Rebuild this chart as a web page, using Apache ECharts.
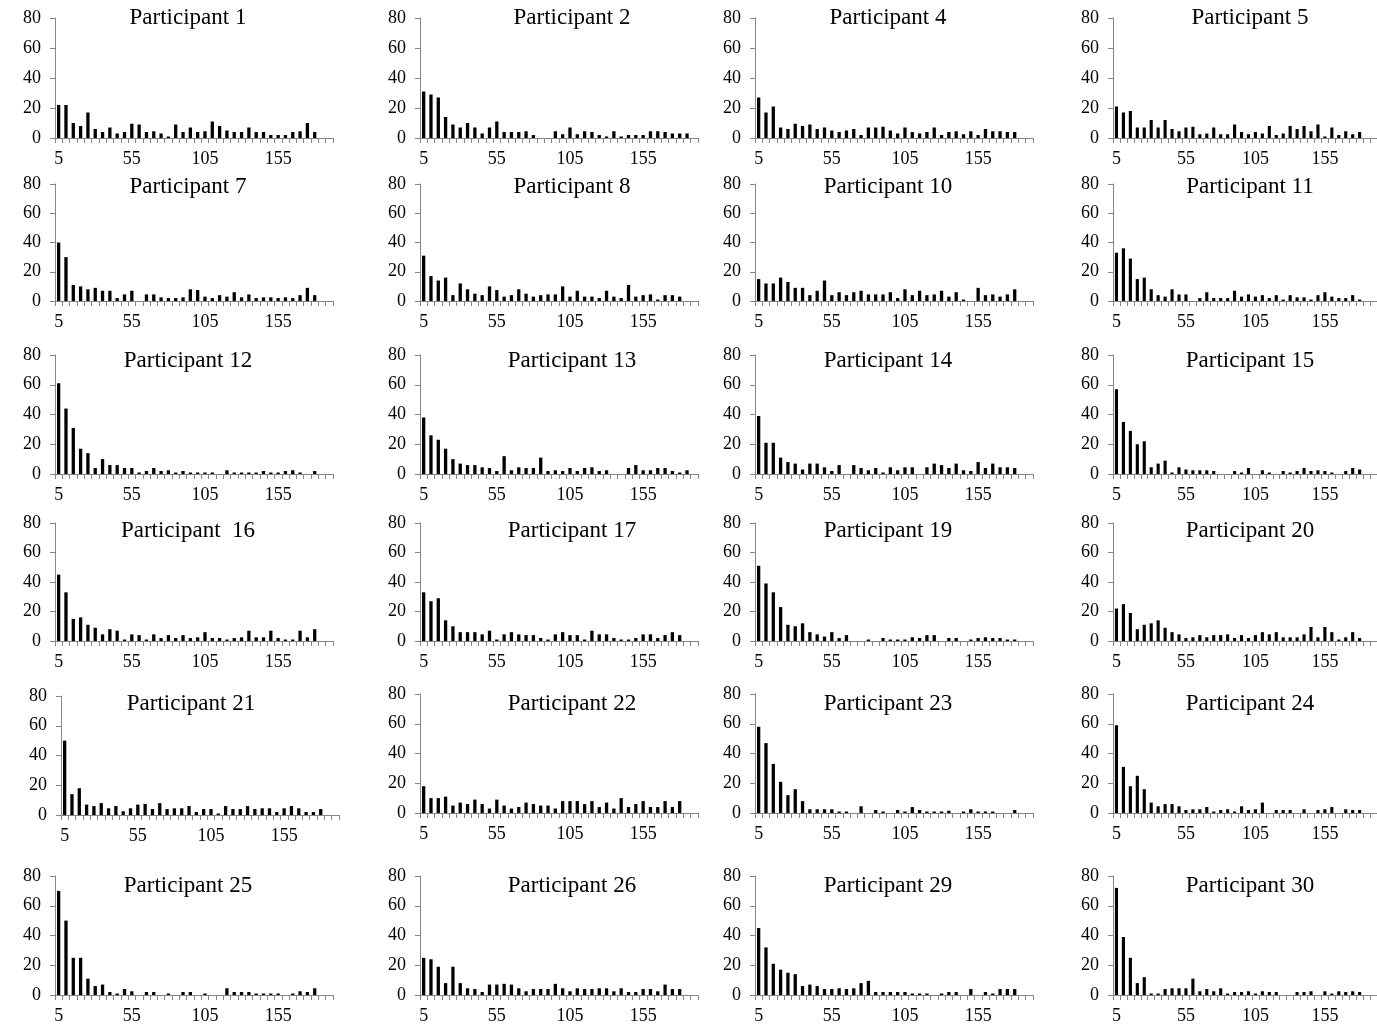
<!DOCTYPE html>
<html>
<head>
<meta charset="utf-8">
<script src="https://cdn.jsdelivr.net/npm/echarts@6/dist/echarts.min.js"></script>
<style>
  html, body { margin: 0; padding: 0; background: #ffffff; }
  #chart { width: 1377px; height: 1030px; }
</style>
</head>
<body>
<div id="chart"></div>
<script>
// Bin labels (upper edge of each 5-unit bin)
const bins = ['5','10','15','20','25','30','35','40','45','50','55','60','65','70','75','80','85','90','95','100',
              '105','110','115','120','125','130','135','140','145','150','155','160','165','170','175','180','185','190'];

// Y axis ticks
const yTicks = [0, 20, 40, 60, 80];

// Counts per bin for each participant
const p1  = [22,22,10,8,17,6,4,7,3,4,9.5,9,4,4.5,3,1,9,4,7,4,4.5,11,8,5,4,4,7,4,4,2,2,2,4,4.5,10,4,0,0];
const p2  = [31,29,27,14,9,7,10,7,3,7,11,4,4,4,4.5,2,0,0,4.5,2.5,7,2.5,4.5,4,2,1,4.5,1,2,2,2,4.5,4.5,4,3,3,3,0];
const p4  = [27,17,21,7,6,9.5,8,9,6,7,5,4,5,6,2,7,7,7.5,5,3,7,4,3,4,7,2,4,4.5,2.5,4.5,2,6,4.5,4.5,4,4,0,0];
const p5  = [21,17,18,7,7,12,7,12,6,4.5,7,7.5,2.5,3,7,2.5,2.5,9,4,2.5,4,3,8,2,3,8,6,8,4.5,9,1,7,2,4.5,2.5,4,0,0];
const p7  = [40,30,11,10,8,9,7,7,2,4.5,7,0,4.5,4.5,2.5,2,2,2.5,8,7.5,3,2,4,3,6,2.5,4.5,2,2.5,2.5,2,2.5,2,4,9,4,0,0];
const p8  = [31,17,14,16,4,12,8,5,4,10,7.5,3,4,8,5,3,4,4.5,4.5,10,3,7,3,3,2,7,3,2,11,3,4,4.5,1,4,4,3,0,0];
const p10 = [15,12,12,16,13,9,9,4,7,14,4,6,4,6,7,4.5,4.5,4.5,6,2,8,4,7,4,4.5,7,3,6,1,0,9,4,4.5,3,4.5,8,0,0];
const p11 = [33,36,29,15,16,8,4,3,8,4.5,4.5,0,2,6,2,2,2,7,3,4.5,3,4,2,4,1,4,2.5,2.5,1,4,6,3,2,2,4,1,0,0];
const p12 = [61,44,31,17,14,4,10,6,6,4,4,1,2,4,2,2.5,1,2,1,1,1,1,0,2.5,1,1,1,1,2,1,1,2,2.5,1,0,2,0,0];
const p13 = [38,26,23,17,10,7,6,6,4.5,4,2,12,2.5,4.5,4,4,11,2,2.5,2,4,2,4,4.5,2,2.5,0,0,4,6,2.5,2.5,4,4,2,1,2.5,0];
const p14 = [39,21,21,11,8,7,3,7,7,4.5,2,6,0,6,4,2.5,4,1,4.5,2.5,4.5,4.5,0,4.5,7,6,4,7,2.5,2,8,4,7,4.5,4.5,4,0,0];
const p15 = [57,35,29,20,22,4.5,7,9,1,4.5,3,2.5,2.5,2.5,2,0,0,2,1,4,0,2.5,1,0,2,1,2,4,2,2.5,2,1,0,2,4,3,0,0];
const p16 = [45,33,15,16,11,9,4.5,8,7,1,4.5,4,1,4.5,2,4,2,4,2,2.5,6,2,2,1,2,2.5,7,2.5,2.5,7,2,1,1,7,2.5,8,0,0];
const p17 = [33,27,29,14,10,6,6,6,4.5,7,1,4.5,6,4.5,4,4,2,1,4.5,6,4,4,1,7,4.5,4.5,2,1,1,2,4.5,4.5,2,4,6,4,0,0];
const p19 = [51,39,33,23,11,10,12,6,4.5,3,6,2,4,0,0,1,0,2,1,1,1,2.5,2,4,4,0,2,2,0,1,2,2.5,2,2,1,1,0,0];
const p20 = [22,25,19,8,11,12,14,9,6,4.5,2,2.5,4,2.5,4,4,4.5,2,4,2,4,6,4.5,6,2.5,2.5,2.5,4.5,9.5,2.5,9.5,6,1,2.5,6,2,0,0];
const p21 = [50,14,18,7,6,8,4.5,6,2.5,4.5,7,7.5,4,8,4,4.5,4.5,6,2,4,4,1,6,4,4,6,4,4.5,4.5,2,4.5,6,4.5,2,2,4,0,0];
const p22 = [18,10,10,11,5,7,6,9,6,3,9,5,3,4,7,6,5,5,3,8,8,8,6,8,4,7,3,10,4,6,8,4,4,8,4,8,0,0];
const p23 = [58,47,33,21,12,16,8,2.5,2.5,2.5,2.5,1,1,0,4.5,0,2,1,0,2,1,4,2,1,1,1,1.5,0,1,2.5,1,1,1,0,0,2,0,0];
const p24 = [59,31,18,25,16,7,4.5,6,6,4.5,2,2.5,2.5,4,1,2,2.5,1,4.5,2,2.5,7,0,2,2,2,0,2.5,0,2,2.5,4,0,2.5,2,2,0,0];
const p25 = [70,50,25,25,11,6,7,2,1,4,2.5,0,2,2,0,1,0,2,2,0,1,0,0,4.5,2,2,2,1,1,1,1,0,1,2.5,2,4.5,0,0];
const p26 = [25,24,19,8,19,8,4.5,4,2,7,7,7.5,7,4.5,2.5,4,4,4,7.5,4.5,2.5,4.5,4,4,4.5,4.5,2.5,4.5,2,2,4,4,2.5,7,4,4,0,0];
const p29 = [45,32,21,17,15,14,6,7,6,4,4,4.5,4,4.5,8,9.5,2,2,2,2,2,1,1,1,0,1,2,2,0,4,0,2,1,4,4,4,0,0];
const p30 = [72,39,25,8,12,1,1,4,4.5,4.5,4.5,11,2.5,4,2.5,4.5,1,2,2,2.5,1,2.5,2,2,0,0,2,2,2.5,0,2.5,1,2.5,2,2.5,2,0,0];

// Panel titles and their series, in reading order (4 per row)
const titles = ['Participant 1','Participant 2','Participant 4','Participant 5',
                'Participant 7','Participant 8','Participant 10','Participant 11',
                'Participant 12','Participant 13','Participant 14','Participant 15',
                'Participant  16','Participant 17','Participant 19','Participant 20',
                'Participant 21','Participant 22','Participant 23','Participant 24',
                'Participant 25','Participant 26','Participant 29','Participant 30'];
const series = [p1,p2,p4,p5, p7,p8,p10,p11, p12,p13,p14,p15, p16,p17,p19,p20, p21,p22,p23,p24, p25,p26,p29,p30];

// Grid geometry (pixels)
const colLeft   = [55, 420, 755, 1113];
const titleX    = [188, 572, 888, 1250];
const titleY    = [18, 187, 361, 531, 704, 886];
const rowTop    = [18, 184, 355, 523, 694, 876];
const rowBottom = [138, 301, 474, 641, 813, 995];
const plotW = 278;

const FONT = "'Liberation Serif', 'Times New Roman', serif";
const AXIS_GREY = '#868686';

const grid = [], xAxis = [], yAxis = [], title = [], bars = [];
series.forEach((vals, i) => {
  const r = Math.floor(i / 4), c = i % 4;
  // Participant 21 sits a little further right and lower than its row
  const shiftX = (i === 16) ? 6 : 0;
  const shiftY = (i === 16) ? 2 : 0;
  grid.push({ left: colLeft[c] + shiftX, top: rowTop[r] + shiftY, width: plotW, height: rowBottom[r] - rowTop[r], containLabel: false });
  xAxis.push({
    gridIndex: i, type: 'category', data: bins, boundaryGap: true,
    axisLine: { lineStyle: { color: AXIS_GREY, width: 1 } },
    axisTick: { show: true, interval: 0, alignWithLabel: false, length: 5, lineStyle: { color: AXIS_GREY } },
    axisLabel: { interval: 9, fontFamily: FONT, fontSize: 18, color: '#000', margin: 12 },
    splitLine: { show: false }
  });
  yAxis.push({
    gridIndex: i, type: 'value', min: yTicks[0], max: yTicks[yTicks.length - 1], interval: 20,
    axisLine: { show: true, lineStyle: { color: AXIS_GREY, width: 1 } },
    axisTick: { show: true, length: 5, lineStyle: { color: AXIS_GREY } },
    axisLabel: { fontFamily: FONT, fontSize: 18, color: '#000', margin: 14 },
    splitLine: { show: false }
  });
  title.push({
    text: titles[i], left: titleX[c] + shiftX / 2, top: titleY[r] - 12, textAlign: 'center', padding: 0,
    textStyle: { fontFamily: FONT, fontSize: 23, fontWeight: 'normal', color: '#000' }
  });
  bars.push({
    type: 'bar', xAxisIndex: i, yAxisIndex: i, data: vals, barWidth: '45%',
    itemStyle: { color: '#000' }, silent: true, animation: false
  });
});

const chart = echarts.init(document.getElementById('chart'), null, { renderer: 'canvas' });
chart.setOption({ animation: false, backgroundColor: '#fff', title, grid, xAxis, yAxis, series: bars });
</script>
</body>
</html>
